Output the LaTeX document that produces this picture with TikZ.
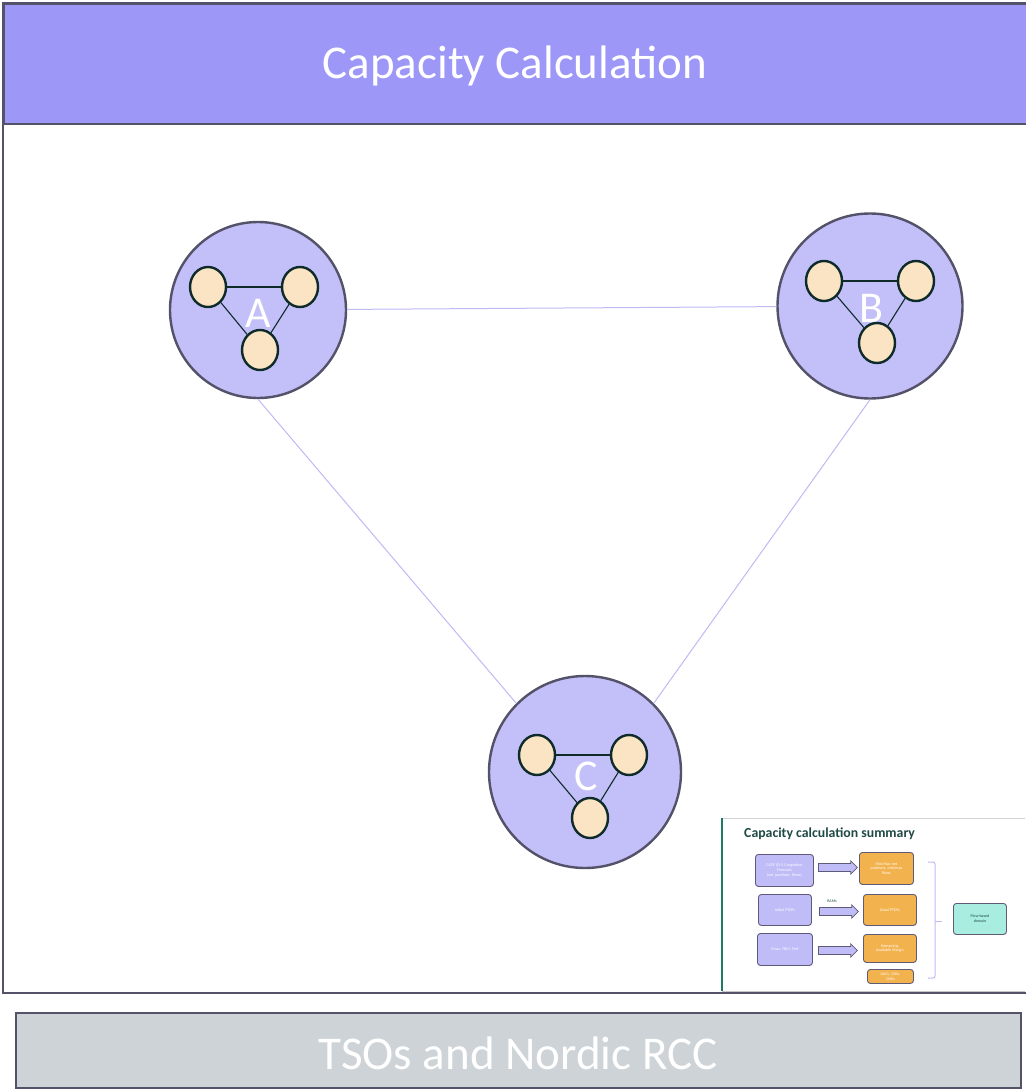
\documentclass[tikz,border=0pt]{standalone}
\usepackage{fontspec}
\setmainfont{Carlito}
\usetikzlibrary{shapes.geometric,shapes.arrows}

\definecolor{headfill}{HTML}{9D97F7}
\definecolor{frameline}{HTML}{545268}
\definecolor{zonefill}{HTML}{C2BFF9}
\definecolor{busfill}{HTML}{FBE4C3}
\definecolor{busline}{HTML}{0E2B2A}
\definecolor{linkline}{HTML}{BFBAF6}
\definecolor{basefill}{HTML}{CDD3D6}
\definecolor{sumteal}{HTML}{1F4A44}
\definecolor{sumgreen}{HTML}{1E7A62}
\definecolor{sumpurple}{HTML}{C0BCF8}
\definecolor{sumorange}{HTML}{F2B24E}
\definecolor{sumaqua}{HTML}{A8EDE0}
\definecolor{sumedge}{HTML}{5E5A78}

\tikzset{
  band/.style={draw=frameline, line width=2.4pt, text=white, inner sep=0pt,
    font=\fontsize{47}{50}\selectfont},
  zone/.style={circle, draw=frameline, fill=zonefill, line width=2.4pt, inner sep=0pt},
  bus/.style={ellipse, draw=busline, fill=busfill, line width=2.4pt, inner sep=0pt,
    minimum width=36pt, minimum height=40pt},
  busedge/.style={draw=busline, line width=1.1pt},
  zonelabel/.style={text=white, font=\fontsize{44}{46}\selectfont, inner sep=0pt},
  link/.style={draw=linkline, line width=1pt},
  sumbox/.style={draw=sumedge, line width=0.9pt, rounded corners=3pt, inner sep=0.5pt,
    align=center, text=white, font=\fontsize{4}{4.8}\selectfont, anchor=north west},
  sumarrow/.style={single arrow, draw=sumedge, fill=sumpurple, line width=0.8pt,
    minimum height=39pt, inner xsep=0pt, inner ysep=3.6pt,
    single arrow head extend=2.6pt, anchor=west}
}

\begin{document}
\begin{tikzpicture}[x=1pt, y=-1pt]
\useasboundingbox (0,0) rectangle (1025,1089);

% outer frame and header band
\draw[draw=frameline, line width=2.4pt, fill=white] (3,3) rectangle (1030,993);
\node[band, fill=headfill, minimum width=1027pt, minimum height=120pt, anchor=north west]
  (head) at (3,3) {};
\node[text=white, font=\fontsize{47}{50}\selectfont, inner sep=0pt]
  (htitle) at (515,66) {Capacity Calculation};

% footer band
\node[band, fill=basefill, minimum width=1005pt, minimum height=75pt, anchor=north west]
  (base) at (15,1012) {};
\node[text=white, font=\fontsize{47}{50}\selectfont, inner sep=0pt]
  (btitle) at (518,1053) {TSOs and Nordic RCC};

% three zones
\node[zone, minimum size=176pt] (A) at (258,310) {};
\node[zone, minimum size=185pt] (B) at (870,306) {};
\node[zone, minimum size=192pt] (C) at (585,772) {};

% links between zones
\draw[link] (A) -- (B);
\draw[link] (A.south) -- (C.135);
\draw[link] (B.south) -- (C.45);

% zone A
\node[bus] (a1) at (208,287) {};
\node[bus] (a2) at (300,287) {};
\node[bus] (a3) at (260,350) {};
\draw[busedge] (a1) -- (a2);
\draw[busedge] (a1) -- (a3);
\draw[busedge] (a2) -- (a3);
\node[zonelabel] (la) at (258,313) {A};

% zone B
\node[bus] (b1) at (824,281) {};
\node[bus] (b2) at (916,281) {};
\node[bus] (b3) at (877,343) {};
\draw[busedge] (b1) -- (b2);
\draw[busedge] (b1) -- (b3);
\draw[busedge] (b2) -- (b3);
\node[zonelabel] (lb) at (871,308) {B};

% zone C
\node[bus] (c1) at (537,755) {};
\node[bus] (c2) at (629,755) {};
\node[bus] (c3) at (590,818) {};
\draw[busedge] (c1) -- (c2);
\draw[busedge] (c1) -- (c3);
\draw[busedge] (c2) -- (c3);
\node[zonelabel] (lc) at (586,776) {C};

% summary slide
\fill[white] (722,818) rectangle (1025,991);
\draw[draw=gray!35, line width=1pt] (722,818) -- (1025,818);
\draw[draw=gray!45, line width=1pt] (722,991) -- (1025,991);
\draw[draw=sumgreen, line width=2pt] (722,818) -- (722,991);
\node[anchor=west, text=sumteal, font=\bfseries\fontsize{13.8}{14}\selectfont, inner sep=0pt]
  (stitle) at (744,834) {Capacity calculation summary};

\node[sumbox, fill=sumpurple, minimum width=58pt, minimum height=32pt, text width=56pt]
  (p1) at (755,854) {D2CF (D-2 Congestion\\Forecast)\\(net positions, flows)};
\node[sumbox, fill=sumpurple, minimum width=53pt, minimum height=31pt, text width=51pt]
  (p2) at (758,894) {Initial PTDFs};
\node[sumbox, fill=sumpurple, minimum width=55pt, minimum height=32pt, text width=53pt]
  (p3) at (757,933) {Fmax, FRM, Fref};

\node[sumbox, fill=sumorange, minimum width=54pt, minimum height=32pt, text width=52pt]
  (o1) at (859,852) {Min/Max net\\positions, min/max\\flows};
\node[sumbox, fill=sumorange, minimum width=53pt, minimum height=31pt, text width=51pt]
  (o2) at (863,894) {Zonal PTDFs};
\node[sumbox, fill=sumorange, minimum width=53pt, minimum height=28pt, text width=51pt]
  (o3) at (863,934) {Remaining\\Available Margin};
\node[sumbox, fill=sumorange, minimum width=46pt, minimum height=14pt, text width=44pt]
  (o4) at (867,969) {AACs, GSKs,\\CNEs};

\node[sumarrow] (r1) at (818,867.5) {};
\node[sumarrow] (r2) at (819,911.5) {};
\node[sumarrow] (r3) at (818,950.5) {};
\node[text=sumteal, font=\fontsize{4}{4.5}\selectfont, inner sep=0pt]
  (rlab) at (832,901) {RAMs};

% brace grouping the results
\draw[draw=linkline, line width=1pt, rounded corners=2pt]
  (928,862) -- (935,862) -- (935,978) -- (928,978);
\draw[draw=linkline, line width=1pt] (935,921) -- (942,921);

\node[sumbox, fill=sumaqua, text=sumteal, minimum width=53pt, minimum height=31pt, text width=51pt]
  (fb) at (953,903) {Flow-based\\domain};
\end{tikzpicture}
\end{document}
